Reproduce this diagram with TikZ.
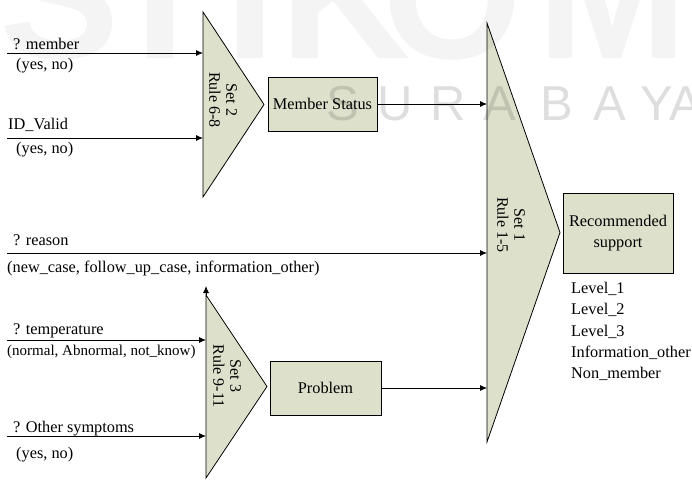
\documentclass[tikz,border=0pt]{standalone}
\usepackage{fontspec}
\setmainfont{Liberation Serif}
\newfontfamily\wmfont{Liberation Sans}
\usetikzlibrary{arrows.meta}
\definecolor{boxfill}{RGB}{221,225,203}
\begin{document}
\begin{tikzpicture}[x=1pt,y=-1pt,
  txt/.style={font=\fontsize{16.3}{18}\selectfont, inner sep=0pt, anchor=base west},
  smalltxt/.style={font=\fontsize{15}{18}\selectfont, inner sep=0pt, anchor=base west},
  blk/.style={draw, fill=boxfill, line width=0.8pt, inner sep=0pt, align=center,
              font=\fontsize{16.3}{21}\selectfont},
  tri/.style={draw, fill=boxfill, line width=0.8pt, line join=miter},
  rtxt/.style={rotate=-90, align=center, inner sep=0pt, font=\fontsize{16}{17}\selectfont},
  arr/.style={-{Latex[length=7pt,width=6pt]}, line width=0.8pt},
  wmbig/.style={anchor=base, inner sep=0pt, text=black, text opacity=0.045,
                font=\wmfont\bfseries\fontsize{180}{180}\selectfont},
  wmsmall/.style={anchor=base, inner sep=0pt, text=black, text opacity=0.13,
                font=\wmfont\fontsize{49}{49}\selectfont}]
\useasboundingbox (0,0) rectangle (692,479);

% ---- Set 2 triangle
\coordinate (s2t) at (203,12);
\coordinate (s2b) at (203,197);
\coordinate (s2a) at (264,104.5);
\draw[tri] (s2t) -- (s2a) -- (s2b) -- cycle;
\node[rtxt] (s2l) at (223,100) {Set 2\\Rule 6-8};

% ---- Set 1 triangle
\coordinate (s1t) at (487,23);
\coordinate (s1b) at (487,442);
\coordinate (s1a) at (560,232.5);
\draw[tri] (s1t) -- (s1a) -- (s1b) -- cycle;
\node[rtxt] (s1l) at (511,225) {Set 1\\Rule 1-5};

% ---- Set 3 triangle
\coordinate (s3t) at (206,295);
\coordinate (s3b) at (206,478);
\coordinate (s3a) at (267,386.5);
\coordinate (s3up) at (206,286);
\draw[tri] (s3t) -- (s3a) -- (s3b) -- cycle;
\draw[arr] (s3t) -- (s3up);
\node[rtxt] (s3l) at (227,376) {Set 3\\Rule 9-11};

% ---- boxes
\node[blk, minimum width=109pt, minimum height=54pt] (ms) at (322.5,104) {Member Status};
\node[blk, minimum width=111pt, minimum height=54pt] (pb) at (325.5,388) {Problem};
\node[blk, minimum width=110pt, minimum height=80pt] (rs) at (618,233) {Recommended\\support};

% ---- inputs of Set 2
\node[txt] (t1) at (13,49) {? member};
\node[txt] (t1v) at (16,69) {(yes, no)};
\coordinate (a1) at (7,53);
\draw[arr] (a1) -- (a1 -| s2t);

\node[txt] (t2) at (8,129) {ID\_Valid};
\node[txt] (t2v) at (16,153) {(yes, no)};
\coordinate (a2) at (7,138);
\draw[arr] (a2) -- (a2 -| s2t);

% ---- reason
\node[txt] (t3) at (13,245) {? reason};
\node[txt] (t3v) at (7,272) {(new\_case, follow\_up\_case, information\_other)};
\coordinate (a3) at (7,253);
\draw[arr] (a3) -- (a3 -| s1t);

% ---- inputs of Set 3
\node[txt] (t4) at (13,334) {? temperature};
\node[smalltxt] (t4v) at (7,355) {(normal, Abnormal, not\_know)};
\coordinate (a4) at (7,340);
\draw[arr] (a4) -- (a4 -| s3t);

\node[txt] (t5) at (13,432) {? Other symptoms};
\node[txt] (t5v) at (16,458) {(yes, no)};
\coordinate (a5) at (7,436);
\draw[arr] (a5) -- (a5 -| s3t);

% ---- outputs to Set 1
\draw[arr] (ms.east) -- (ms.east -| s1t);
\draw[arr] (pb.east) -- (pb.east -| s1t);

% ---- result values
\node[txt] (l1) at (571,293) {Level\_1};
\node[txt] (l2) at (571,314.5) {Level\_2};
\node[txt] (l3) at (571,336) {Level\_3};
\node[txt] (l4) at (571,357) {Information\_other};
\node[txt] (l5) at (571,378.5) {Non\_member};

% ---- watermark
\node[wmbig] (w1) at (60,58) {S};
\node[wmbig] (w2) at (160,58) {T};
\node[wmbig] (w3) at (251,58) {I};
\node[wmbig] (w4) at (345,58) {K};
\node[wmbig] (w5) at (452,58) {O};
\node[wmbig] (w6) at (612,58) {M};

\node[wmsmall] (v1) at (343,120) {S};
\node[wmsmall] (v2) at (395,120) {U};
\node[wmsmall] (v3) at (448,120) {R};
\node[wmsmall] (v4) at (500,120) {A};
\node[wmsmall] (v5) at (557,120) {B};
\node[wmsmall] (v6) at (610,120) {A};
\node[wmsmall] (v7) at (657,120) {Y};
\node[wmsmall] (v8) at (686,120) {A};
\end{tikzpicture}
\end{document}
